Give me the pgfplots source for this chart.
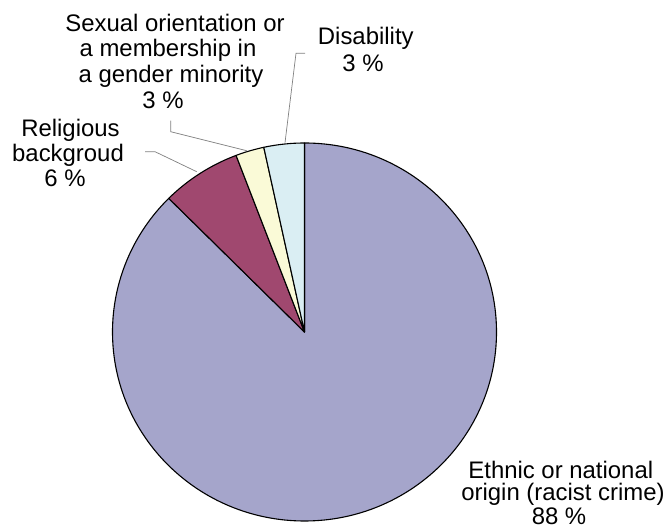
\documentclass[border=0pt]{standalone}
\usepackage{pgfplots}
\pgfplotsset{compat=1.18}
\usepackage{pgfplotstable}
\usepackage{fontspec}
\setmainfont{Liberation Sans}

\definecolor{cEthnic}{HTML}{A5A5CB}
\definecolor{cRelig}{HTML}{A0486F}
\definecolor{cSexual}{HTML}{FAFAD7}
\definecolor{cDisab}{HTML}{DAEEF3}
\definecolor{leader}{HTML}{808080}

% share of hate crimes by motive, percent (clockwise from 12 o'clock)
\pgfplotstableread{
name value
ethnic 87.5
religious 6.7
sexual 2.4
disability 3.4
}\piedata

\newcommand\getval[2]{\pgfplotstablegetelem{#1}{value}\of\piedata\let#2\pgfplotsretval}

% pie centre and radii, in pixel units of the axis
\def\cx{304.5}
\def\cy{332}
\def\rx{192}
\def\ry{189}

\newcommand\slice[3]{%
  \filldraw[fill=#1, draw=black, line width=1.1bp, line join=round]
    (axis cs:\cx,\cy) -- ([shift={(#2:\rx bp and \ry bp)}]axis cs:\cx,\cy)
    arc[start angle=#2, end angle=#3, x radius=\rx bp, y radius=\ry bp] -- cycle;}

\newcommand\lbl[3]{%
  \node[anchor=base, inner sep=0pt, font=\fontsize{24}{26}\selectfont]
    at (axis cs:#1,#2) {#3};}

\begin{document}
\begin{tikzpicture}
  \getval{0}\vA
  \getval{1}\vB
  \getval{2}\vC
  \getval{3}\vD
  \pgfmathsetmacro\aA{90}
  \pgfmathsetmacro\aB{\aA-3.6*\vA}
  \pgfmathsetmacro\aC{\aB-3.6*\vB}
  \pgfmathsetmacro\aD{\aC-3.6*\vC}
  \pgfmathsetmacro\aE{\aD-3.6*\vD}
  \begin{axis}[
      scale only axis,
      width=666bp, height=530bp,
      xmin=0, xmax=666,
      ymin=0, ymax=530,
      enlargelimits=false,
      y dir=reverse,
      hide axis,
      clip=false
    ]
    \slice{cEthnic}{\aA}{\aB}
    \slice{cRelig}{\aB}{\aC}
    \slice{cSexual}{\aC}{\aD}
    \slice{cDisab}{\aD}{\aE}

    % leader lines
    \draw[leader, line width=0.7bp] (axis cs:145,151.7) -- (axis cs:155,151.7) -- (axis cs:196.7,171.7);
    \draw[leader, line width=0.7bp] (axis cs:170.7,120.7) -- (axis cs:170.7,131.7) -- (axis cs:246.7,150.7);
    \draw[leader, line width=0.7bp] (axis cs:305,53.3) -- (axis cs:296,53.3) -- (axis cs:285,142.7);

    % labels
    \lbl{175}{31.7}{Sexual orientation or}
    \lbl{168}{56.9}{a membership in}
    \lbl{171}{82.5}{a gender minority}
    \lbl{163}{108.3}{3 \%}

    \lbl{365.8}{45}{Disability}
    \lbl{363}{71.7}{3 \%}

    \lbl{70.5}{136.7}{Religious}
    \lbl{68}{161.7}{backgroud}
    \lbl{65}{186.7}{6 \%}

    \lbl{560.8}{478.3}{Ethnic or national}
    \lbl{563}{500.7}{origin (racist crime)}
    \lbl{559}{525}{88 \%}
  \end{axis}
  \pgfresetboundingbox
  \path (current axis.south west) rectangle (current axis.north east);
\end{tikzpicture}
\end{document}
